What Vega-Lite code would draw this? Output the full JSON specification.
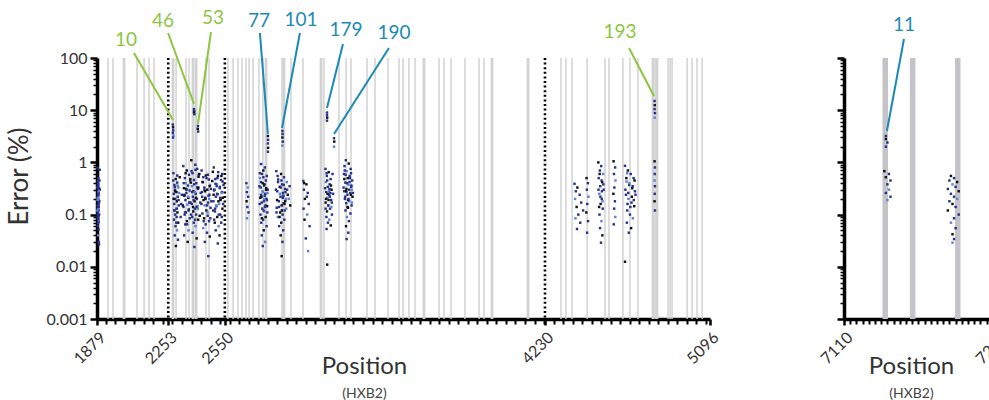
{
  "$schema": "https://vega.github.io/schema/vega-lite/v6.json",
  "padding": {"left": 6, "top": 8, "right": 0, "bottom": 0},
  "autosize": {"type": "pad"},
  "spacing": 134,
  "bounds": "flush",
  "config": {
    "font": "Lato",
    "view": {"stroke": null},
    "axis": {"grid": false, "domainColor": "#000", "tickColor": "#000", "labelColor": "#333", "titleColor": "#333", "titleFontWeight": "normal", "labelFlush": false, "labelOverlap": false}
  },
  "datasets": {
    "grayL": [
      {"pos":1937,"w":"thin"},{"pos":1963,"w":"thin"},{"pos":2021,"w":"thick"},{"pos":2089,"w":"thin"},{"pos":2126,"w":"thin"},{"pos":2152,"w":"thin"},{"pos":2178,"w":"thin"},{"pos":2278,"w":"thick"},{"pos":2294,"w":"thin"},{"pos":2346,"w":"thin"},{"pos":2362,"w":"thin"},{"pos":2383,"w":"thick"},{"pos":2399,"w":"thick"},{"pos":2451,"w":"thin"},{"pos":2467,"w":"thin"},{"pos":2566,"w":"thin"},{"pos":2593,"w":"thin"},{"pos":2619,"w":"thin"},{"pos":2640,"w":"thin"},{"pos":2661,"w":"thin"},{"pos":2677,"w":"thin"},{"pos":2698,"w":"thin"},{"pos":2729,"w":"thin"},{"pos":2750,"w":"thin"},{"pos":2766,"w":"thick"},{"pos":2850,"w":"thin"},{"pos":2860,"w":"thick"},{"pos":2897,"w":"thin"},{"pos":2960,"w":"thin"},{"pos":3055,"w":"thick"},{"pos":3070,"w":"thin"},{"pos":3149,"w":"thin"},{"pos":3186,"w":"thin"},{"pos":3212,"w":"thin"},{"pos":3296,"w":"thin"},{"pos":3338,"w":"thin"},{"pos":3406,"w":"thin"},{"pos":3464,"w":"thin"},{"pos":3485,"w":"thin"},{"pos":3516,"w":"thin"},{"pos":3548,"w":"thin"},{"pos":3595,"w":"thick"},{"pos":3674,"w":"thin"},{"pos":3700,"w":"thin"},{"pos":3737,"w":"thin"},{"pos":3810,"w":"thin"},{"pos":3884,"w":"thin"},{"pos":3910,"w":"thin"},{"pos":3952,"w":"thick"},{"pos":4141,"w":"thick"},{"pos":4314,"w":"thin"},{"pos":4340,"w":"thin"},{"pos":4372,"w":"thin"},{"pos":4451,"w":"thin"},{"pos":4545,"w":"thin"},{"pos":4566,"w":"thin"},{"pos":4639,"w":"thin"},{"pos":4676,"w":"thin"},{"pos":4718,"w":"thin"},{"pos":4797,"w":"thick"},{"pos":4808,"w":"thin"},{"pos":4818,"w":"thick"},{"pos":4876,"w":"thin"},{"pos":4887,"w":"thin"},{"pos":4897,"w":"thin"},{"pos":4976,"w":"thin"},{"pos":5002,"w":"thin"},{"pos":5028,"w":"thin"},{"pos":5055,"w":"thin"}
    ],
    "dotL": [{"pos":2253},{"pos":2550},{"pos":4230}],
    "labL": [
      {"pos":2031,"err":221,"t":"10","g":"g"},{"pos":2225,"err":512,"t":"46","g":"g"},{"pos":2488,"err":584,"t":"53","g":"g"},{"pos":2729,"err":512,"t":"77","g":"b"},{"pos":2950,"err":535,"t":"101","g":"b"},{"pos":3186,"err":344,"t":"179","g":"b"},{"pos":3438,"err":301,"t":"190","g":"b"},{"pos":4624,"err":315,"t":"193","g":"g"}
    ],
    "segL": [
      {"pos":2073,"err":125,"pos2":2278,"err2":6.5,"g":"g"},{"pos":2252,"err":301,"pos2":2388,"err2":13.2,"g":"g"},{"pos":2477,"err":315,"pos2":2409,"err2":5.45,"g":"g"},{"pos":2734,"err":301,"pos2":2776,"err2":3.5,"g":"b"},{"pos":2944,"err":301,"pos2":2850,"err2":4.56,"g":"b"},{"pos":3170,"err":185,"pos2":3086,"err2":11,"g":"b"},{"pos":3411,"err":155,"pos2":3123,"err2":3.5,"g":"b"},{"pos":4671,"err":155,"pos2":4802,"err2":18.7,"g":"g"}
    ],
    "ptsL": [
      {"pos":1882,"err":0.78,"c":"b"},{"pos":1884,"err":0.6,"c":"k"},{"pos":1886,"err":0.5,"c":"b"},{"pos":1883,"err":0.44,"c":"b"},{"pos":1888,"err":0.39,"c":"l"},{"pos":1885,"err":0.35,"c":"b"},{"pos":1890,"err":0.32,"c":"b"},{"pos":1882,"err":0.29,"c":"k"},{"pos":1887,"err":0.27,"c":"b"},{"pos":1884,"err":0.25,"c":"b"},{"pos":1889,"err":0.23,"c":"l"},{"pos":1883,"err":0.21,"c":"b"},{"pos":1886,"err":0.195,"c":"b"},{"pos":1891,"err":0.18,"c":"b"},{"pos":1885,"err":0.165,"c":"k"},{"pos":1882,"err":0.15,"c":"b"},{"pos":1888,"err":0.14,"c":"b"},{"pos":1884,"err":0.13,"c":"l"},{"pos":1887,"err":0.12,"c":"b"},{"pos":1883,"err":0.11,"c":"b"},{"pos":1890,"err":0.1,"c":"b"},{"pos":1885,"err":0.095,"c":"k"},{"pos":1882,"err":0.088,"c":"b"},{"pos":1886,"err":0.082,"c":"b"},{"pos":1889,"err":0.075,"c":"l"},{"pos":1884,"err":0.068,"c":"b"},{"pos":1883,"err":0.06,"c":"b"},{"pos":1887,"err":0.052,"c":"b"},{"pos":1885,"err":0.04,"c":"l"},{"pos":1888,"err":0.03,"c":"b"},{"pos":1890,"err":0.027,"c":"b"},{"pos":1893,"err":0.72,"c":"b"},{"pos":1892,"err":0.45,"c":"b"},{"pos":1894,"err":0.3,"c":"b"},
      {"pos":1881,"err":0.33,"c":"b"},{"pos":1883,"err":0.21,"c":"l"},{"pos":1885,"err":0.14,"c":"b"},{"pos":1887,"err":0.26,"c":"b"},{"pos":1889,"err":0.17,"c":"b"},{"pos":1881,"err":0.12,"c":"l"},{"pos":1884,"err":0.38,"c":"b"},{"pos":1886,"err":0.09,"c":"b"},{"pos":1888,"err":0.31,"c":"b"},{"pos":1882,"err":0.19,"c":"l"},{"pos":1885,"err":0.24,"c":"b"},{"pos":1887,"err":0.155,"c":"b"},{"pos":1883,"err":0.1,"c":"b"},{"pos":1889,"err":0.28,"c":"l"},{"pos":1886,"err":0.072,"c":"b"},
      {"pos":2277,"err":5.3,"c":"b"},{"pos":2278,"err":4.7,"c":"k"},{"pos":2279,"err":4.1,"c":"b"},{"pos":2277,"err":3.7,"c":"b"},{"pos":2280,"err":3.3,"c":"l"},{"pos":2278,"err":3.0,"c":"b"},
      {"pos":2280,"err":0.62,"c":"b"},{"pos":2292,"err":0.48,"c":"k"},{"pos":2300,"err":0.41,"c":"b"},{"pos":2285,"err":0.37,"c":"b"},{"pos":2306,"err":0.33,"c":"l"},{"pos":2288,"err":0.3,"c":"b"},{"pos":2296,"err":0.27,"c":"k"},{"pos":2282,"err":0.25,"c":"b"},{"pos":2303,"err":0.22,"c":"b"},{"pos":2290,"err":0.2,"c":"b"},{"pos":2298,"err":0.18,"c":"k"},{"pos":2284,"err":0.16,"c":"b"},{"pos":2308,"err":0.15,"c":"b"},{"pos":2294,"err":0.13,"c":"l"},{"pos":2286,"err":0.12,"c":"b"},{"pos":2301,"err":0.11,"c":"k"},{"pos":2289,"err":0.1,"c":"b"},{"pos":2297,"err":0.09,"c":"b"},{"pos":2283,"err":0.08,"c":"b"},{"pos":2305,"err":0.07,"c":"k"},{"pos":2291,"err":0.06,"c":"b"},{"pos":2299,"err":0.05,"c":"l"},{"pos":2287,"err":0.04,"c":"b"},{"pos":2304,"err":0.033,"c":"b"},{"pos":2293,"err":0.025,"c":"k"},
      {"pos":2332,"err":0.85,"c":"b"},{"pos":2350,"err":0.7,"c":"k"},{"pos":2362,"err":0.58,"c":"b"},{"pos":2340,"err":0.5,"c":"b"},{"pos":2368,"err":0.45,"c":"b"},{"pos":2345,"err":0.4,"c":"l"},{"pos":2356,"err":0.36,"c":"b"},{"pos":2335,"err":0.32,"c":"k"},{"pos":2365,"err":0.29,"c":"b"},{"pos":2348,"err":0.26,"c":"b"},{"pos":2338,"err":0.24,"c":"b"},{"pos":2358,"err":0.21,"c":"k"},{"pos":2343,"err":0.19,"c":"b"},{"pos":2370,"err":0.17,"c":"b"},{"pos":2353,"err":0.155,"c":"l"},{"pos":2333,"err":0.14,"c":"b"},{"pos":2361,"err":0.125,"c":"k"},{"pos":2346,"err":0.11,"c":"b"},{"pos":2339,"err":0.1,"c":"b"},{"pos":2366,"err":0.085,"c":"b"},{"pos":2351,"err":0.075,"c":"k"},{"pos":2342,"err":0.065,"c":"b"},{"pos":2359,"err":0.05,"c":"l"},{"pos":2336,"err":0.04,"c":"b"},{"pos":2355,"err":0.03,"c":"k"},
      {"pos":2374,"err":1.1,"c":"k"},{"pos":2395,"err":0.9,"c":"b"},{"pos":2405,"err":0.75,"c":"b"},{"pos":2380,"err":0.62,"c":"b"},{"pos":2412,"err":0.53,"c":"k"},{"pos":2388,"err":0.46,"c":"b"},{"pos":2400,"err":0.4,"c":"b"},{"pos":2377,"err":0.35,"c":"l"},{"pos":2409,"err":0.31,"c":"b"},{"pos":2385,"err":0.28,"c":"k"},{"pos":2397,"err":0.25,"c":"b"},{"pos":2382,"err":0.22,"c":"b"},{"pos":2403,"err":0.2,"c":"b"},{"pos":2391,"err":0.18,"c":"k"},{"pos":2376,"err":0.16,"c":"b"},{"pos":2407,"err":0.145,"c":"l"},{"pos":2393,"err":0.13,"c":"b"},{"pos":2384,"err":0.115,"c":"k"},{"pos":2399,"err":0.1,"c":"b"},{"pos":2379,"err":0.09,"c":"b"},{"pos":2410,"err":0.08,"c":"k"},{"pos":2387,"err":0.07,"c":"b"},{"pos":2396,"err":0.06,"c":"l"},{"pos":2381,"err":0.045,"c":"b"},{"pos":2402,"err":0.035,"c":"k"},{"pos":2390,"err":0.024,"c":"b"},
      {"pos":2428,"err":0.7,"c":"b"},{"pos":2450,"err":0.56,"c":"k"},{"pos":2466,"err":0.47,"c":"b"},{"pos":2435,"err":0.42,"c":"b"},{"pos":2472,"err":0.37,"c":"l"},{"pos":2442,"err":0.33,"c":"b"},{"pos":2458,"err":0.3,"c":"k"},{"pos":2430,"err":0.27,"c":"b"},{"pos":2469,"err":0.24,"c":"b"},{"pos":2447,"err":0.21,"c":"b"},{"pos":2438,"err":0.19,"c":"k"},{"pos":2462,"err":0.17,"c":"b"},{"pos":2444,"err":0.15,"c":"l"},{"pos":2475,"err":0.135,"c":"b"},{"pos":2453,"err":0.12,"c":"k"},{"pos":2432,"err":0.105,"c":"b"},{"pos":2460,"err":0.095,"c":"b"},{"pos":2441,"err":0.085,"c":"k"},{"pos":2467,"err":0.075,"c":"b"},{"pos":2449,"err":0.065,"c":"b"},{"pos":2436,"err":0.055,"c":"l"},{"pos":2456,"err":0.045,"c":"b"},{"pos":2471,"err":0.038,"c":"k"},{"pos":2445,"err":0.03,"c":"b"},{"pos":2463,"err":0.016,"c":"b"},
      {"pos":2492,"err":0.8,"c":"b"},{"pos":2515,"err":0.65,"c":"b"},{"pos":2532,"err":0.55,"c":"k"},{"pos":2500,"err":0.48,"c":"b"},{"pos":2538,"err":0.43,"c":"b"},{"pos":2508,"err":0.38,"c":"l"},{"pos":2524,"err":0.34,"c":"b"},{"pos":2495,"err":0.3,"c":"k"},{"pos":2535,"err":0.27,"c":"b"},{"pos":2512,"err":0.245,"c":"b"},{"pos":2503,"err":0.22,"c":"b"},{"pos":2528,"err":0.2,"c":"k"},{"pos":2490,"err":0.18,"c":"b"},{"pos":2520,"err":0.16,"c":"l"},{"pos":2506,"err":0.145,"c":"b"},{"pos":2537,"err":0.13,"c":"k"},{"pos":2498,"err":0.115,"c":"b"},{"pos":2526,"err":0.1,"c":"b"},{"pos":2510,"err":0.09,"c":"k"},{"pos":2494,"err":0.08,"c":"b"},{"pos":2531,"err":0.07,"c":"b"},{"pos":2517,"err":0.06,"c":"l"},{"pos":2502,"err":0.05,"c":"b"},{"pos":2522,"err":0.04,"c":"k"},{"pos":2513,"err":0.028,"c":"b"},
      {"pos":2279,"err":0.45,"c":"b"},{"pos":2284,"err":0.12,"c":"b"},{"pos":2289,"err":0.28,"c":"k"},{"pos":2295,"err":0.07,"c":"b"},{"pos":2302,"err":0.36,"c":"l"},{"pos":2307,"err":0.19,"c":"b"},{"pos":2313,"err":0.52,"c":"k"},{"pos":2318,"err":0.09,"c":"b"},{"pos":2324,"err":0.24,"c":"b"},{"pos":2329,"err":0.15,"c":"k"},
      {"pos":2334,"err":0.4,"c":"b"},{"pos":2341,"err":0.11,"c":"b"},{"pos":2347,"err":0.31,"c":"k"},{"pos":2352,"err":0.065,"c":"b"},{"pos":2357,"err":0.22,"c":"l"},{"pos":2363,"err":0.17,"c":"b"},{"pos":2369,"err":0.48,"c":"k"},{"pos":2373,"err":0.1,"c":"b"},{"pos":2378,"err":0.27,"c":"b"},{"pos":2383,"err":0.14,"c":"k"},
      {"pos":2389,"err":0.38,"c":"b"},{"pos":2394,"err":0.08,"c":"b"},{"pos":2398,"err":0.21,"c":"k"},{"pos":2404,"err":0.33,"c":"b"},{"pos":2408,"err":0.13,"c":"l"},{"pos":2413,"err":0.58,"c":"b"},{"pos":2418,"err":0.095,"c":"k"},{"pos":2423,"err":0.26,"c":"b"},{"pos":2427,"err":0.16,"c":"b"},{"pos":2433,"err":0.42,"c":"k"},
      {"pos":2439,"err":0.075,"c":"b"},{"pos":2443,"err":0.3,"c":"b"},{"pos":2448,"err":0.2,"c":"k"},{"pos":2454,"err":0.5,"c":"b"},{"pos":2459,"err":0.11,"c":"l"},{"pos":2464,"err":0.23,"c":"b"},{"pos":2470,"err":0.35,"c":"k"},{"pos":2474,"err":0.085,"c":"b"},{"pos":2479,"err":0.18,"c":"b"},{"pos":2484,"err":0.44,"c":"k"},
      {"pos":2489,"err":0.12,"c":"b"},{"pos":2493,"err":0.29,"c":"b"},{"pos":2497,"err":0.07,"c":"k"},{"pos":2501,"err":0.39,"c":"b"},{"pos":2505,"err":0.15,"c":"l"},{"pos":2509,"err":0.25,"c":"b"},{"pos":2514,"err":0.55,"c":"k"},{"pos":2518,"err":0.1,"c":"b"},{"pos":2523,"err":0.32,"c":"b"},{"pos":2527,"err":0.19,"c":"k"},
      {"pos":2530,"err":0.46,"c":"b"},{"pos":2534,"err":0.09,"c":"b"},{"pos":2539,"err":0.21,"c":"k"},{"pos":2543,"err":0.37,"c":"b"},
      {"pos":2281,"err":0.2,"c":"k"},{"pos":2287,"err":0.34,"c":"b"},{"pos":2298,"err":0.13,"c":"b"},{"pos":2310,"err":0.26,"c":"l"},{"pos":2321,"err":0.16,"c":"b"},{"pos":2337,"err":0.23,"c":"k"},{"pos":2349,"err":0.3,"c":"b"},{"pos":2360,"err":0.12,"c":"b"},{"pos":2371,"err":0.41,"c":"k"},{"pos":2386,"err":0.19,"c":"b"},{"pos":2392,"err":0.27,"c":"l"},{"pos":2401,"err":0.14,"c":"b"},{"pos":2411,"err":0.33,"c":"k"},{"pos":2421,"err":0.17,"c":"b"},{"pos":2431,"err":0.22,"c":"b"},{"pos":2446,"err":0.28,"c":"k"},{"pos":2457,"err":0.15,"c":"b"},{"pos":2468,"err":0.2,"c":"l"},{"pos":2477,"err":0.31,"c":"b"},{"pos":2491,"err":0.24,"c":"k"},{"pos":2499,"err":0.13,"c":"b"},{"pos":2507,"err":0.35,"c":"b"},{"pos":2516,"err":0.18,"c":"k"},{"pos":2525,"err":0.21,"c":"b"},{"pos":2533,"err":0.26,"c":"l"},{"pos":2541,"err":0.16,"c":"b"},
      {"pos":2300,"err":0.56,"c":"b"},{"pos":2344,"err":0.62,"c":"k"},{"pos":2375,"err":0.68,"c":"b"},{"pos":2396,"err":0.72,"c":"b"},{"pos":2416,"err":0.6,"c":"k"},{"pos":2437,"err":0.52,"c":"b"},{"pos":2461,"err":0.58,"c":"b"},{"pos":2487,"err":0.66,"c":"k"},{"pos":2511,"err":0.5,"c":"b"},{"pos":2536,"err":0.6,"c":"b"},
      {"pos":2388,"err":10.5,"c":"b"},{"pos":2389,"err":9.6,"c":"b"},{"pos":2388,"err":9.0,"c":"k"},{"pos":2390,"err":8.4,"c":"b"},
      {"pos":2409,"err":5.0,"c":"b"},{"pos":2408,"err":4.4,"c":"k"},{"pos":2410,"err":3.9,"c":"b"},
      {"pos":2663,"err":0.4,"c":"b"},{"pos":2670,"err":0.33,"c":"l"},{"pos":2665,"err":0.27,"c":"b"},{"pos":2672,"err":0.22,"c":"b"},{"pos":2664,"err":0.18,"c":"k"},{"pos":2668,"err":0.14,"c":"b"},{"pos":2674,"err":0.11,"c":"b"},{"pos":2666,"err":0.085,"c":"l"},
      {"pos":2740,"err":0.93,"c":"b"},{"pos":2760,"err":0.8,"c":"b"},{"pos":2752,"err":0.7,"c":"k"},{"pos":2745,"err":0.6,"c":"b"},{"pos":2770,"err":0.55,"c":"b"},{"pos":2735,"err":0.5,"c":"l"},{"pos":2765,"err":0.45,"c":"b"},{"pos":2748,"err":0.4,"c":"k"},{"pos":2756,"err":0.36,"c":"b"},{"pos":2738,"err":0.33,"c":"b"},{"pos":2775,"err":0.3,"c":"b"},{"pos":2750,"err":0.27,"c":"l"},{"pos":2762,"err":0.25,"c":"b"},{"pos":2742,"err":0.22,"c":"k"},{"pos":2768,"err":0.2,"c":"b"},{"pos":2755,"err":0.18,"c":"b"},{"pos":2733,"err":0.16,"c":"b"},{"pos":2772,"err":0.145,"c":"k"},{"pos":2746,"err":0.13,"c":"b"},{"pos":2758,"err":0.115,"c":"l"},{"pos":2737,"err":0.1,"c":"b"},{"pos":2764,"err":0.09,"c":"k"},{"pos":2751,"err":0.08,"c":"b"},{"pos":2741,"err":0.07,"c":"b"},{"pos":2769,"err":0.06,"c":"b"},{"pos":2754,"err":0.05,"c":"k"},{"pos":2744,"err":0.04,"c":"b"},{"pos":2761,"err":0.03,"c":"l"},{"pos":2749,"err":0.025,"c":"b"},
      {"pos":2731,"err":0.35,"c":"b"},{"pos":2736,"err":0.21,"c":"k"},{"pos":2739,"err":0.42,"c":"b"},{"pos":2743,"err":0.17,"c":"b"},{"pos":2747,"err":0.28,"c":"l"},{"pos":2753,"err":0.12,"c":"b"},{"pos":2757,"err":0.38,"c":"k"},{"pos":2759,"err":0.23,"c":"b"},{"pos":2763,"err":0.15,"c":"b"},{"pos":2767,"err":0.32,"c":"k"},{"pos":2771,"err":0.19,"c":"b"},{"pos":2774,"err":0.26,"c":"l"},{"pos":2734,"err":0.62,"c":"b"},{"pos":2744,"err":0.085,"c":"k"},{"pos":2752,"err":0.52,"c":"b"},{"pos":2760,"err":0.14,"c":"b"},{"pos":2766,"err":0.3,"c":"k"},{"pos":2773,"err":0.11,"c":"b"},{"pos":2740,"err":0.24,"c":"b"},{"pos":2756,"err":0.2,"c":"l"},
      {"pos":2776,"err":3.2,"c":"k"},{"pos":2777,"err":2.7,"c":"b"},{"pos":2776,"err":2.3,"c":"b"},{"pos":2777,"err":1.9,"c":"k"},{"pos":2776,"err":1.6,"c":"b"},
      {"pos":2820,"err":0.68,"c":"b"},{"pos":2845,"err":0.6,"c":"k"},{"pos":2860,"err":0.52,"c":"b"},{"pos":2830,"err":0.47,"c":"b"},{"pos":2875,"err":0.42,"c":"l"},{"pos":2850,"err":0.38,"c":"b"},{"pos":2838,"err":0.34,"c":"k"},{"pos":2866,"err":0.31,"c":"b"},{"pos":2825,"err":0.28,"c":"b"},{"pos":2855,"err":0.26,"c":"b"},{"pos":2880,"err":0.24,"c":"k"},{"pos":2842,"err":0.22,"c":"b"},{"pos":2870,"err":0.2,"c":"l"},{"pos":2833,"err":0.18,"c":"b"},{"pos":2858,"err":0.165,"c":"b"},{"pos":2848,"err":0.15,"c":"k"},{"pos":2822,"err":0.135,"c":"b"},{"pos":2864,"err":0.12,"c":"b"},{"pos":2840,"err":0.11,"c":"k"},{"pos":2853,"err":0.1,"c":"b"},{"pos":2828,"err":0.09,"c":"l"},{"pos":2862,"err":0.08,"c":"b"},{"pos":2846,"err":0.07,"c":"k"},{"pos":2835,"err":0.06,"c":"b"},{"pos":2856,"err":0.05,"c":"b"},{"pos":2843,"err":0.04,"c":"k"},{"pos":2852,"err":0.03,"c":"b"},{"pos":2848,"err":0.016,"c":"k"},{"pos":2890,"err":0.35,"c":"b"},{"pos":2893,"err":0.15,"c":"k"},
      {"pos":2818,"err":0.3,"c":"b"},{"pos":2824,"err":0.19,"c":"k"},{"pos":2829,"err":0.42,"c":"b"},{"pos":2834,"err":0.14,"c":"b"},{"pos":2839,"err":0.25,"c":"l"},{"pos":2844,"err":0.33,"c":"b"},{"pos":2849,"err":0.12,"c":"k"},{"pos":2854,"err":0.21,"c":"b"},{"pos":2859,"err":0.37,"c":"b"},{"pos":2863,"err":0.16,"c":"k"},{"pos":2868,"err":0.27,"c":"b"},{"pos":2872,"err":0.13,"c":"l"},{"pos":2827,"err":0.55,"c":"b"},{"pos":2837,"err":0.09,"c":"k"},{"pos":2847,"err":0.45,"c":"b"},{"pos":2857,"err":0.23,"c":"b"},{"pos":2867,"err":0.18,"c":"k"},{"pos":2877,"err":0.3,"c":"b"},{"pos":2885,"err":0.2,"c":"l"},{"pos":2821,"err":0.11,"c":"b"},
      {"pos":2852,"err":4.0,"c":"b"},{"pos":2853,"err":3.5,"c":"b"},{"pos":2852,"err":3.0,"c":"k"},{"pos":2854,"err":2.5,"c":"b"},{"pos":2852,"err":2.1,"c":"l"},
      {"pos":2962,"err":0.44,"c":"b"},{"pos":2978,"err":0.38,"c":"k"},{"pos":2965,"err":0.3,"c":"b"},{"pos":2985,"err":0.26,"c":"b"},{"pos":2970,"err":0.2,"c":"k"},{"pos":2990,"err":0.16,"c":"b"},{"pos":2963,"err":0.13,"c":"b"},{"pos":2982,"err":0.1,"c":"l"},{"pos":2968,"err":0.08,"c":"k"},{"pos":2995,"err":0.06,"c":"b"},{"pos":2975,"err":0.035,"c":"b"},{"pos":2987,"err":0.02,"c":"l"},{"pos":2966,"err":0.4,"c":"k"},{"pos":2980,"err":0.22,"c":"b"},
      {"pos":3078,"err":0.75,"c":"b"},{"pos":3095,"err":0.65,"c":"k"},{"pos":3085,"err":0.55,"c":"b"},{"pos":3105,"err":0.48,"c":"b"},{"pos":3080,"err":0.42,"c":"l"},{"pos":3100,"err":0.38,"c":"b"},{"pos":3090,"err":0.34,"c":"b"},{"pos":3110,"err":0.3,"c":"k"},{"pos":3082,"err":0.27,"c":"b"},{"pos":3097,"err":0.24,"c":"b"},{"pos":3088,"err":0.21,"c":"l"},{"pos":3108,"err":0.19,"c":"b"},{"pos":3079,"err":0.17,"c":"k"},{"pos":3093,"err":0.15,"c":"b"},{"pos":3102,"err":0.13,"c":"b"},{"pos":3086,"err":0.115,"c":"k"},{"pos":3112,"err":0.1,"c":"b"},{"pos":3083,"err":0.09,"c":"b"},{"pos":3098,"err":0.08,"c":"l"},{"pos":3091,"err":0.07,"c":"b"},{"pos":3106,"err":0.062,"c":"k"},{"pos":3084,"err":0.053,"c":"b"},{"pos":3087,"err":0.011,"c":"k"},{"pos":3115,"err":0.6,"c":"b"},{"pos":3118,"err":0.25,"c":"b"},
      {"pos":3076,"err":0.32,"c":"b"},{"pos":3081,"err":0.2,"c":"k"},{"pos":3087,"err":0.45,"c":"b"},{"pos":3092,"err":0.15,"c":"b"},{"pos":3096,"err":0.28,"c":"l"},{"pos":3101,"err":0.22,"c":"b"},{"pos":3107,"err":0.36,"c":"k"},{"pos":3111,"err":0.17,"c":"b"},{"pos":3079,"err":0.13,"c":"b"},{"pos":3089,"err":0.25,"c":"k"},{"pos":3099,"err":0.31,"c":"b"},{"pos":3109,"err":0.14,"c":"l"},{"pos":3084,"err":0.62,"c":"b"},{"pos":3094,"err":0.19,"c":"k"},{"pos":3104,"err":0.26,"c":"b"},
      {"pos":3086,"err":9.0,"c":"b"},{"pos":3086,"err":8.0,"c":"b"},{"pos":3087,"err":7.2,"c":"k"},{"pos":3086,"err":6.3,"c":"b"},
      {"pos":3123,"err":2.9,"c":"b"},{"pos":3124,"err":2.5,"c":"k"},{"pos":3123,"err":2.0,"c":"l"},
      {"pos":3185,"err":1.1,"c":"b"},{"pos":3200,"err":0.95,"c":"k"},{"pos":3178,"err":0.85,"c":"b"},{"pos":3210,"err":0.75,"c":"b"},{"pos":3190,"err":0.68,"c":"l"},{"pos":3175,"err":0.6,"c":"b"},{"pos":3205,"err":0.55,"c":"b"},{"pos":3195,"err":0.5,"c":"k"},{"pos":3218,"err":0.45,"c":"b"},{"pos":3182,"err":0.41,"c":"b"},{"pos":3199,"err":0.37,"c":"l"},{"pos":3213,"err":0.34,"c":"b"},{"pos":3188,"err":0.31,"c":"k"},{"pos":3176,"err":0.28,"c":"b"},{"pos":3208,"err":0.26,"c":"b"},{"pos":3193,"err":0.24,"c":"b"},{"pos":3220,"err":0.22,"c":"k"},{"pos":3180,"err":0.2,"c":"b"},{"pos":3203,"err":0.18,"c":"l"},{"pos":3187,"err":0.165,"c":"b"},{"pos":3215,"err":0.15,"c":"b"},{"pos":3196,"err":0.135,"c":"k"},{"pos":3183,"err":0.12,"c":"b"},{"pos":3209,"err":0.105,"c":"b"},{"pos":3191,"err":0.09,"c":"l"},{"pos":3201,"err":0.075,"c":"b"},{"pos":3186,"err":0.06,"c":"k"},{"pos":3198,"err":0.045,"c":"b"},{"pos":3189,"err":0.034,"c":"b"},
      {"pos":3173,"err":0.33,"c":"b"},{"pos":3177,"err":0.48,"c":"k"},{"pos":3181,"err":0.22,"c":"b"},{"pos":3184,"err":0.58,"c":"b"},{"pos":3189,"err":0.27,"c":"l"},{"pos":3192,"err":0.4,"c":"b"},{"pos":3197,"err":0.19,"c":"k"},{"pos":3202,"err":0.3,"c":"b"},{"pos":3206,"err":0.5,"c":"b"},{"pos":3211,"err":0.24,"c":"k"},{"pos":3214,"err":0.36,"c":"b"},{"pos":3217,"err":0.17,"c":"l"},{"pos":3179,"err":0.7,"c":"b"},{"pos":3194,"err":0.14,"c":"k"},{"pos":3204,"err":0.42,"c":"b"},{"pos":3212,"err":0.62,"c":"b"},{"pos":3186,"err":0.28,"c":"k"},{"pos":3199,"err":0.2,"c":"b"},{"pos":3216,"err":0.3,"c":"l"},{"pos":3222,"err":0.26,"c":"b"},
      {"pos":4385,"err":0.39,"c":"b"},{"pos":4400,"err":0.33,"c":"k"},{"pos":4392,"err":0.28,"c":"b"},{"pos":4412,"err":0.24,"c":"b"},{"pos":4388,"err":0.2,"c":"l"},{"pos":4420,"err":0.17,"c":"b"},{"pos":4396,"err":0.14,"c":"k"},{"pos":4430,"err":0.12,"c":"b"},{"pos":4405,"err":0.1,"c":"b"},{"pos":4390,"err":0.085,"c":"l"},{"pos":4415,"err":0.07,"c":"b"},{"pos":4398,"err":0.053,"c":"b"},
      {"pos":4448,"err":0.5,"c":"k"},{"pos":4455,"err":0.4,"c":"b"},{"pos":4450,"err":0.3,"c":"b"},{"pos":4458,"err":0.22,"c":"l"},{"pos":4452,"err":0.16,"c":"b"},{"pos":4447,"err":0.11,"c":"k"},{"pos":4456,"err":0.075,"c":"b"},{"pos":4451,"err":0.045,"c":"b"},
      {"pos":4510,"err":1.0,"c":"k"},{"pos":4525,"err":0.85,"c":"b"},{"pos":4518,"err":0.7,"c":"b"},{"pos":4535,"err":0.6,"c":"l"},{"pos":4512,"err":0.5,"c":"b"},{"pos":4530,"err":0.42,"c":"k"},{"pos":4520,"err":0.35,"c":"b"},{"pos":4538,"err":0.3,"c":"b"},{"pos":4515,"err":0.25,"c":"l"},{"pos":4528,"err":0.2,"c":"b"},{"pos":4522,"err":0.16,"c":"k"},{"pos":4533,"err":0.13,"c":"b"},{"pos":4516,"err":0.1,"c":"b"},{"pos":4526,"err":0.075,"c":"l"},{"pos":4519,"err":0.055,"c":"b"},{"pos":4531,"err":0.04,"c":"k"},{"pos":4524,"err":0.029,"c":"b"},
      {"pos":4511,"err":0.3,"c":"b"},{"pos":4517,"err":0.6,"c":"k"},{"pos":4521,"err":0.22,"c":"b"},{"pos":4527,"err":0.45,"c":"b"},{"pos":4532,"err":0.18,"c":"l"},{"pos":4536,"err":0.38,"c":"b"},{"pos":4514,"err":0.14,"c":"k"},{"pos":4529,"err":0.28,"c":"b"},
      {"pos":4590,"err":1.05,"c":"k"},{"pos":4598,"err":0.8,"c":"b"},{"pos":4592,"err":0.6,"c":"b"},{"pos":4600,"err":0.45,"c":"l"},{"pos":4594,"err":0.33,"c":"b"},{"pos":4589,"err":0.25,"c":"k"},{"pos":4597,"err":0.18,"c":"b"},{"pos":4593,"err":0.13,"c":"b"},{"pos":4599,"err":0.09,"c":"l"},{"pos":4591,"err":0.065,"c":"b"},
      {"pos":4650,"err":0.86,"c":"b"},{"pos":4665,"err":0.7,"c":"k"},{"pos":4680,"err":0.6,"c":"b"},{"pos":4695,"err":0.5,"c":"b"},{"pos":4658,"err":0.43,"c":"l"},{"pos":4672,"err":0.37,"c":"b"},{"pos":4688,"err":0.32,"c":"k"},{"pos":4702,"err":0.28,"c":"b"},{"pos":4655,"err":0.24,"c":"b"},{"pos":4668,"err":0.2,"c":"l"},{"pos":4684,"err":0.17,"c":"b"},{"pos":4698,"err":0.145,"c":"k"},{"pos":4662,"err":0.12,"c":"b"},{"pos":4676,"err":0.1,"c":"b"},{"pos":4691,"err":0.085,"c":"l"},{"pos":4660,"err":0.07,"c":"b"},{"pos":4682,"err":0.055,"c":"k"},{"pos":4670,"err":0.045,"c":"b"},{"pos":4650,"err":0.0125,"c":"k"},
      {"pos":4652,"err":0.3,"c":"b"},{"pos":4657,"err":0.5,"c":"k"},{"pos":4663,"err":0.16,"c":"b"},{"pos":4667,"err":0.26,"c":"b"},{"pos":4673,"err":0.4,"c":"l"},{"pos":4678,"err":0.14,"c":"b"},{"pos":4686,"err":0.22,"c":"k"},{"pos":4690,"err":0.35,"c":"b"},{"pos":4696,"err":0.19,"c":"b"},{"pos":4700,"err":0.45,"c":"k"},{"pos":4705,"err":0.24,"c":"b"},{"pos":4661,"err":0.62,"c":"l"},
      {"pos":4805,"err":15,"c":"b"},{"pos":4806,"err":12.5,"c":"k"},{"pos":4805,"err":10.5,"c":"b"},{"pos":4807,"err":8.8,"c":"b"},{"pos":4806,"err":7.2,"c":"l"},{"pos":4805,"err":1.05,"c":"k"},{"pos":4807,"err":0.8,"c":"b"},{"pos":4806,"err":0.6,"c":"b"},{"pos":4805,"err":0.45,"c":"l"},{"pos":4807,"err":0.35,"c":"b"},{"pos":4806,"err":0.25,"c":"b"},{"pos":4805,"err":0.18,"c":"k"},{"pos":4807,"err":0.12,"c":"b"}
    ],
    "grayR": [{"pos":7136.6},{"pos":7154.3},{"pos":7183.4}],
    "labR": [{"pos":7148.7,"err":430,"t":"11","g":"b"}],
    "segR": [{"pos":7148.7,"err":231,"pos2":7137.7,"err2":4.0,"g":"b"}],
    "ptsR": [
      {"pos":7137,"err":3.2,"c":"b"},{"pos":7137,"err":2.8,"c":"k"},{"pos":7138,"err":2.4,"c":"b"},{"pos":7137,"err":2.0,"c":"b"},{"pos":7136,"err":0.68,"c":"k"},{"pos":7139,"err":0.6,"c":"b"},{"pos":7137,"err":0.52,"c":"k"},{"pos":7140,"err":0.45,"c":"b"},{"pos":7138,"err":0.38,"c":"b"},{"pos":7139,"err":0.3,"c":"l"},{"pos":7137,"err":0.26,"c":"b"},{"pos":7140,"err":0.22,"c":"b"},{"pos":7138,"err":0.19,"c":"l"},
      {"pos":7179,"err":0.55,"c":"k"},{"pos":7181,"err":0.5,"c":"b"},{"pos":7178,"err":0.45,"c":"b"},{"pos":7183,"err":0.42,"c":"k"},{"pos":7180,"err":0.38,"c":"l"},{"pos":7182,"err":0.34,"c":"b"},{"pos":7177,"err":0.31,"c":"b"},{"pos":7184,"err":0.28,"c":"k"},{"pos":7179,"err":0.25,"c":"b"},{"pos":7181,"err":0.22,"c":"b"},{"pos":7183,"err":0.2,"c":"l"},{"pos":7178,"err":0.18,"c":"b"},{"pos":7180,"err":0.16,"c":"k"},{"pos":7182,"err":0.14,"c":"b"},{"pos":7177,"err":0.12,"c":"k"},{"pos":7184,"err":0.1,"c":"b"},{"pos":7181,"err":0.085,"c":"b"},{"pos":7179,"err":0.07,"c":"l"},{"pos":7182,"err":0.055,"c":"b"},{"pos":7180,"err":0.042,"c":"k"},{"pos":7181,"err":0.034,"c":"b"},{"pos":7180,"err":0.029,"c":"l"}
    ]
  },
  "hconcat": [
    {
      "width": 613,
      "height": 261,
      "resolve": {"axis": {"x": "independent", "y": "independent"}, "scale": {"color": "independent"}},
      "layer": [
        {
          "data": {"name": "grayL"},
          "mark": {"type": "rule", "color": "#d2d2d2"},
          "encoding": {
            "x": {"field": "pos", "type": "quantitative", "scale": {"domain": [1879, 5096], "nice": false, "zero": false}, "axis": null},
            "strokeWidth": {"field": "w", "type": "nominal", "scale": {"domain": ["thin", "thick"], "range": [1.5, 2.8]}, "legend": null}
          }
        },
        {
          "data": {"name": "ptsL"},
          "mark": {"type": "square", "size": 6, "opacity": 1, "filled": true},
          "encoding": {
            "x": {"field": "pos", "type": "quantitative", "scale": {"domain": [1879, 5096], "nice": false, "zero": false},
                  "axis": {"orient": "bottom", "values": [1879, 2253, 2550, 4230, 5096], "format": "d", "labelAngle": -45, "labelFontSize": 16, "labelPadding": 4, "tickSize": 6, "tickWidth": 2.5, "domainWidth": 3.5, "title": "Position", "titleFontSize": 24, "titleX": 267, "titleY": 47, "titleBaseline": "middle"}},
            "y": {"field": "err", "type": "quantitative", "scale": {"type": "log", "domain": [0.001, 100], "nice": false},
                  "axis": {"orient": "left", "values": [0.001, 0.01, 0.1, 1, 10, 100], "format": "~g", "labelFontSize": 16, "labelPadding": 3, "tickSize": 7, "tickWidth": 2.5, "domainWidth": 3.5, "title": "Error (%)", "titleFontSize": 26, "titlePadding": 14, "titleY": 118}},
            "color": {"field": "c", "type": "nominal", "scale": {"domain": ["b", "k", "l"], "range": ["#27338a", "#111111", "#5d82d6"]}, "legend": null}
          }
        },
        {
          "data": {"name": "dotL"},
          "mark": {"type": "rule", "color": "#000", "strokeWidth": 2.6, "strokeDash": [2, 2.6]},
          "encoding": {
            "x": {"field": "pos", "type": "quantitative", "scale": {"domain": [1879, 5096], "nice": false, "zero": false}, "axis": null}
          }
        },
        {
          "mark": {"type": "rule", "color": "#ef3e2a", "strokeWidth": 2.8, "strokeDash": [15, 5]},
          "encoding": {"y": {"datum": 1, "type": "quantitative", "scale": {"type": "log", "domain": [0.001, 100], "nice": false}, "axis": null}}
        },
        {
          "mark": {"type": "rule", "color": "#8dc63f", "strokeWidth": 2.8, "strokeDash": [15, 5]},
          "encoding": {"y": {"datum": 0.4, "type": "quantitative", "scale": {"type": "log", "domain": [0.001, 100], "nice": false}, "axis": null}}
        },
        {
          "data": {"name": "segL"},
          "mark": {"type": "rule", "strokeWidth": 2},
          "encoding": {
            "x": {"field": "pos", "type": "quantitative", "scale": {"domain": [1879, 5096], "nice": false, "zero": false},
                  "axis": {"orient": "bottom", "values": [1925,1975,2025,2075,2125,2175,2225,2275,2325,2375,2425,2475,2525,2575,2625,2675,2725,2775,2825,2875,2925,2975,3025,3075,3125,3175,3225,3275,3325,3375,3425,3475,3525,3575,3625,3675,3725,3775,3825,3875,3925,3975,4025,4075,4125,4175,4225,4275,4325,4375,4425,4475,4525,4575,4625,4675,4725,4775,4825,4875,4925,4975,5025,5075], "labels": false, "domain": false, "tickSize": 5, "tickWidth": 2, "title": "(HXB2)", "titleFontSize": 14, "titleColor": "#444", "titleX": 267, "titleY": 74, "titleBaseline": "middle"}},
            "y": {"field": "err", "type": "quantitative", "scale": {"type": "log", "domain": [0.001, 100], "nice": false},
                  "axis": {"orient": "left", "values": [0.002,0.003,0.004,0.005,0.006,0.007,0.008,0.009,0.02,0.03,0.04,0.05,0.06,0.07,0.08,0.09,0.2,0.3,0.4,0.5,0.6,0.7,0.8,0.9,2,3,4,5,6,7,8,9,20,30,40,50,60,70,80,90], "labels": false, "domain": false, "tickSize": 4, "tickWidth": 1.5, "title": null}},
            "x2": {"field": "pos2"},
            "y2": {"field": "err2"},
            "color": {"field": "g", "type": "nominal", "scale": {"domain": ["g", "b"], "range": ["#8dc63f", "#1b8ab5"]}, "legend": null}
          }
        },
        {
          "data": {"name": "labL"},
          "mark": {"type": "text", "fontSize": 19, "baseline": "middle", "align": "center"},
          "encoding": {
            "x": {"field": "pos", "type": "quantitative", "scale": {"domain": [1879, 5096], "nice": false, "zero": false}, "axis": null},
            "y": {"field": "err", "type": "quantitative", "scale": {"type": "log", "domain": [0.001, 100], "nice": false}, "axis": null},
            "text": {"field": "t"},
            "color": {"field": "g", "type": "nominal", "scale": {"domain": ["g", "b"], "range": ["#8dc63f", "#1b8ab5"]}, "legend": null}
          }
        }
      ]
    },
    {
      "width": 155,
      "height": 261,
      "resolve": {"axis": {"x": "independent", "y": "independent"}, "scale": {"color": "independent"}},
      "layer": [
        {
          "data": {"name": "grayR"},
          "mark": {"type": "rule", "color": "#c4c4c8", "strokeWidth": 5.5},
          "encoding": {
            "x": {"field": "pos", "type": "quantitative", "scale": {"domain": [7110, 7210], "nice": false, "zero": false}, "axis": null}
          }
        },
        {
          "data": {"name": "ptsR"},
          "mark": {"type": "square", "size": 6, "opacity": 1, "filled": true},
          "encoding": {
            "x": {"field": "pos", "type": "quantitative", "scale": {"domain": [7110, 7210], "nice": false, "zero": false},
                  "axis": {"orient": "bottom", "values": [7110, 7210], "format": "d", "labelAngle": -45, "labelFontSize": 16, "labelPadding": 4, "tickSize": 6, "tickWidth": 2.5, "domainWidth": 3.5, "title": "Position", "titleFontSize": 24, "titleX": 67, "titleY": 47, "titleBaseline": "middle"}},
            "y": {"field": "err", "type": "quantitative", "scale": {"type": "log", "domain": [0.001, 100], "nice": false},
                  "axis": {"orient": "left", "values": [0.001, 0.01, 0.1, 1, 10, 100], "labels": false, "tickSize": 7, "tickWidth": 2.5, "domainWidth": 3.5, "title": null}},
            "color": {"field": "c", "type": "nominal", "scale": {"domain": ["b", "k", "l"], "range": ["#27338a", "#111111", "#5d82d6"]}, "legend": null}
          }
        },
        {
          "mark": {"type": "rule", "color": "#ef3e2a", "strokeWidth": 2.8, "strokeDash": [15, 5]},
          "encoding": {"y": {"datum": 1, "type": "quantitative", "scale": {"type": "log", "domain": [0.001, 100], "nice": false}, "axis": null}}
        },
        {
          "mark": {"type": "rule", "color": "#8dc63f", "strokeWidth": 2.8, "strokeDash": [15, 5]},
          "encoding": {"y": {"datum": 0.4, "type": "quantitative", "scale": {"type": "log", "domain": [0.001, 100], "nice": false}, "axis": null}}
        },
        {
          "data": {"name": "segR"},
          "mark": {"type": "rule", "strokeWidth": 2},
          "encoding": {
            "x": {"field": "pos", "type": "quantitative", "scale": {"domain": [7110, 7210], "nice": false, "zero": false},
                  "axis": {"orient": "bottom", "values": [7114,7118,7122,7126,7130,7134,7138,7142,7146,7150,7154,7158,7162,7166,7170,7174,7178,7182,7186,7190,7194,7198,7202,7206], "labels": false, "domain": false, "tickSize": 5, "tickWidth": 2, "title": "(HXB2)", "titleFontSize": 14, "titleColor": "#444", "titleX": 67, "titleY": 74, "titleBaseline": "middle"}},
            "y": {"field": "err", "type": "quantitative", "scale": {"type": "log", "domain": [0.001, 100], "nice": false},
                  "axis": {"orient": "left", "values": [0.002,0.003,0.004,0.005,0.006,0.007,0.008,0.009,0.02,0.03,0.04,0.05,0.06,0.07,0.08,0.09,0.2,0.3,0.4,0.5,0.6,0.7,0.8,0.9,2,3,4,5,6,7,8,9,20,30,40,50,60,70,80,90], "labels": false, "domain": false, "tickSize": 4, "tickWidth": 1.5, "title": null}},
            "x2": {"field": "pos2"},
            "y2": {"field": "err2"},
            "color": {"field": "g", "type": "nominal", "scale": {"domain": ["g", "b"], "range": ["#8dc63f", "#1b8ab5"]}, "legend": null}
          }
        },
        {
          "data": {"name": "labR"},
          "mark": {"type": "text", "fontSize": 19, "baseline": "middle", "align": "center"},
          "encoding": {
            "x": {"field": "pos", "type": "quantitative", "scale": {"domain": [7110, 7210], "nice": false, "zero": false}, "axis": null},
            "y": {"field": "err", "type": "quantitative", "scale": {"type": "log", "domain": [0.001, 100], "nice": false}, "axis": null},
            "text": {"field": "t"},
            "color": {"field": "g", "type": "nominal", "scale": {"domain": ["g", "b"], "range": ["#8dc63f", "#1b8ab5"]}, "legend": null}
          }
        }
      ]
    }
  ]
}
